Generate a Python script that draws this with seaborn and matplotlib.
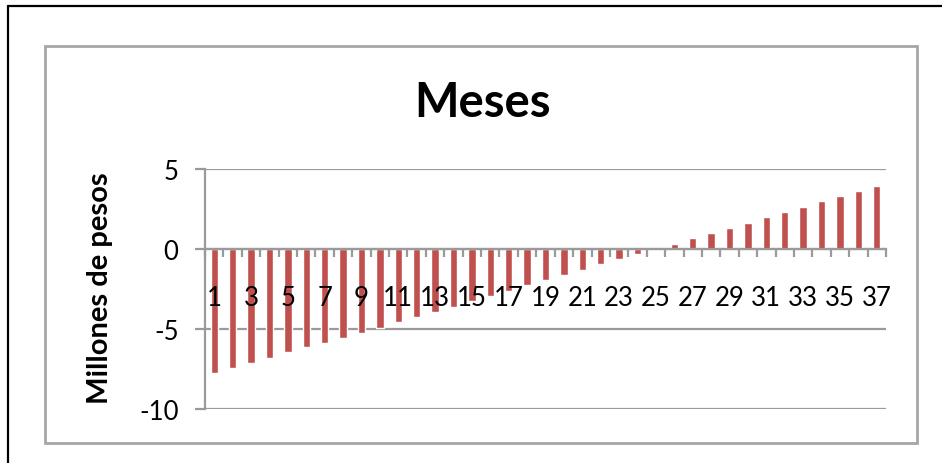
import matplotlib
matplotlib.use("Agg")
import matplotlib.pyplot as plt
from matplotlib.lines import Line2D
from matplotlib.patches import Rectangle
from matplotlib.ticker import FixedLocator
import seaborn as sns
import pandas as pd

# Monthly balance, in millions of pesos
meses = list(range(1, 38))
valores = [-7.75, -7.44, -7.10, -6.79, -6.44, -6.12, -5.90, -5.58, -5.25, -4.92,
           -4.56, -4.27, -3.94, -3.60, -3.27, -2.94, -2.60, -2.27, -1.96, -1.62,
           -1.29, -0.96, -0.62, -0.31, 0.0, 0.33, 0.67, 0.98, 1.31, 1.65,
           1.98, 2.31, 2.65, 2.98, 3.29, 3.62, 3.96]
etiquetas_x = [str(m) if m % 2 == 1 else "" for m in meses]
ticks_y = [-10, -5, 0, 5]

titulo = "Meses"
titulo_y = "Millones de pesos"

sns.set_style("white")
plt.rcParams["font.family"] = ["Lato", "DejaVu Sans"]
plt.rcParams["text.color"] = "black"

df = pd.DataFrame({"mes": meses, "valor": valores})

GRIS = "#9A9A9A"
W, H = 942, 464
fig = plt.figure(figsize=(W / 100, H / 100), dpi=100)
ax = fig.add_axes([205 / W, 1 - 410 / H, (886 - 205) / W, 240 / H])

sns.barplot(data=df, x="mes", y="valor", color="#C0504D", saturation=1,
            width=0.4, ax=ax, order=meses, zorder=1)

ax.set_xlim(-0.5, len(meses) - 0.5)
ax.set_ylim(-10, 5)
ax.set_yticks(ticks_y)
ax.set_yticklabels([str(t) for t in ticks_y], fontsize=18.5)

# gridlines behind the bars, axis labels in front of them
ax.grid(False)
for t in ticks_y:
    ax.axhline(t, color=GRIS, linewidth=1.6, zorder=0.5)
ax.set_axisbelow(False)

# category axis sits on the zero line
for s in ["top", "right"]:
    ax.spines[s].set_visible(False)
ax.spines["bottom"].set_position(("data", 0))
ax.spines["bottom"].set_color(GRIS)
ax.spines["bottom"].set_linewidth(1.6)
ax.spines["left"].set_color(GRIS)
ax.spines["left"].set_linewidth(1.6)

ax.set_xticks(range(len(meses)))
ax.set_xticklabels(etiquetas_x, fontsize=18.5)
ax.xaxis.set_minor_locator(FixedLocator([i + 0.5 for i in range(-1, len(meses))]))
ax.tick_params(axis="x", which="major", length=0, pad=26, labelcolor="black")
ax.tick_params(axis="x", which="minor", length=6, width=1.6, color=GRIS,
               direction="out", bottom=True)
ax.tick_params(axis="y", which="major", length=7, width=1.6, color=GRIS,
               direction="out", left=True, pad=12, labelcolor="black")
ax.set_xlabel("")
ax.set_ylabel("")

fig.text(482 / W, 1 - 103 / H, titulo, ha="center", va="center",
         fontsize=34, fontweight="bold", color="black")
fig.text(100 / W, 1 - 288 / H, titulo_y, ha="center", va="center",
         rotation=90, fontsize=21, fontweight="bold", color="black")

# chart frame and outer sheet border
fig.add_artist(Rectangle((45 / W, 1 - 444 / H), (917 - 45) / W, (444 - 47) / H,
                         transform=fig.transFigure, fill=False,
                         edgecolor="#A6A6A6", linewidth=2))
fig.add_artist(Line2D([8 / W, 1], [1 - 7 / H, 1 - 7 / H], transform=fig.transFigure,
                      color="black", linewidth=1.6))
fig.add_artist(Line2D([8 / W, 8 / W], [0, 1 - 7 / H], transform=fig.transFigure,
                      color="black", linewidth=1.6))

fig.savefig("out.png", dpi=100, facecolor="white")
